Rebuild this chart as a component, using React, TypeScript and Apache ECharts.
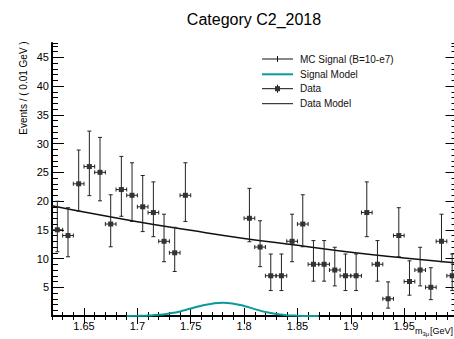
import React, { useEffect, useRef } from "react";
import * as echarts from "echarts";

const TITLE = "Category C2_2018";
const Y_TITLE = "Events / ( 0.01 GeV )";
const X_TITLE_MAIN = "m";
const X_TITLE_SUB = "3μ";
const X_TITLE_UNIT = "[GeV]";
const LEGEND_LABELS = ["MC Signal (B=10-e7)", "Signal Model", "Data", "Data Model"];

const X_MIN = 1.62;
const X_MAX = 2.0;
const Y_MIN = 0;
const Y_MAX = 47.5;
const HALF_BIN = 0.005;

const xMajorTicks = [1.65, 1.7, 1.75, 1.8, 1.85, 1.9, 1.95];
const yMajorTicks = [5, 10, 15, 20, 25, 30, 35, 40, 45];

// observed data (blinded 1.75-1.80)
const binCenters = [
  1.625, 1.635, 1.645, 1.655, 1.665, 1.675, 1.685, 1.695, 1.705, 1.715, 1.725, 1.735, 1.745,
  1.805, 1.815, 1.825, 1.835, 1.845, 1.855, 1.865, 1.875, 1.885, 1.895, 1.905, 1.915, 1.925,
  1.935, 1.945, 1.955, 1.965, 1.975, 1.985, 1.995,
];
const counts = [
  15, 14, 23, 26, 25, 16, 22, 21, 19, 18, 13, 11, 21,
  17, 12, 7, 7, 13, 16, 9, 9, 8, 7, 7, 18, 9, 3, 14, 6, 8, 5, 13, 7,
];

// background (data) model curve
const modelX = [1.62, 1.65, 1.7, 1.75, 1.8, 1.85, 1.9, 1.95, 2.0];
const modelY = [19.2, 18.1, 16.4, 14.9, 13.5, 12.3, 11.1, 10.1, 9.2];

// signal model curve
const sigX = [1.69, 1.7, 1.71, 1.72, 1.73, 1.74, 1.75, 1.76, 1.77, 1.78, 1.79, 1.8, 1.81, 1.82, 1.83, 1.84, 1.85, 1.86, 1.87];
const sigY = [0, 0.03, 0.08, 0.2, 0.45, 0.8, 1.3, 1.8, 2.15, 2.3, 2.15, 1.75, 1.2, 0.7, 0.35, 0.15, 0.05, 0.01, 0];

const FONT = "Liberation Sans, Arial, Helvetica, sans-serif";

// Poisson (Garwood-like, Gehrels approximation) 68% interval
function poisLo(n: number) {
  if (n <= 0) return 0;
  const t = 1 - 1 / (9 * n) - 1 / (3 * Math.sqrt(n));
  return n * t * t * t;
}
function poisHi(n: number) {
  return n + Math.sqrt(n + 0.75) + 1;
}

export default function App() {
  const ref = useRef<HTMLDivElement>(null);

  useEffect(() => {
    if (!ref.current) return;
    const chart = echarts.init(ref.current, undefined, { renderer: "svg" });

    const errData = counts.map((n, i) => [binCenters[i], n, poisLo(n), poisHi(n)]);
    const modelData = modelX.map((x, i) => [x, modelY[i]]);
    const sigData = sigX.map((x, i) => [x, sigY[i]]);

    const axisLineStyle = { color: "#000", width: 2 };
    const tickStyle = { color: "#000", width: 1 };

    const xBase = {
      type: "value" as const,
      min: X_MIN,
      max: X_MAX,
      splitLine: { show: false },
    };
    const yBase = {
      type: "value" as const,
      min: Y_MIN,
      max: Y_MAX,
      splitLine: { show: false },
    };

    const rows = [59, 74.3, 88.7, 103.7];
    const lx1 = 262;
    const lx2 = 293;
    const lxm = (lx1 + lx2) / 2;
    const ltx = 300;

    const legendGraphics: any[] = [];
    rows.forEach((y, i) => {
      const isSig = i === 1;
      legendGraphics.push({
        type: "line",
        shape: { x1: lx1, y1: y, x2: lx2, y2: y },
        style: { stroke: isSig ? "#0a9a9a" : "#111", lineWidth: isSig ? 2 : 1 },
      });
      if (i === 0) {
        legendGraphics.push({
          type: "line",
          shape: { x1: lxm, y1: y - 3, x2: lxm, y2: y + 3 },
          style: { stroke: "#111", lineWidth: 1 },
        });
      }
      if (i === 2) {
        legendGraphics.push({
          type: "line",
          shape: { x1: lxm, y1: y - 4, x2: lxm, y2: y + 4 },
          style: { stroke: "#111", lineWidth: 1 },
        });
        legendGraphics.push({
          type: "rect",
          shape: { x: lxm - 2.5, y: y - 2.5, width: 5, height: 5 },
          style: { fill: "#333" },
        });
      }
      legendGraphics.push({
        type: "text",
        x: ltx,
        y: y,
        style: {
          text: LEGEND_LABELS[i],
          font: `10px ${FONT}`,
          fill: "#111",
          align: "left",
          verticalAlign: "middle",
        },
      });
    });

    const option: any = {
      animation: false,
      backgroundColor: "#fff",
      grid: { left: 52, top: 43, width: 405.5, height: 273 },
      xAxis: [
        {
          ...xBase,
          position: "bottom",
          axisLine: { show: true, lineStyle: axisLineStyle },
          axisTick: { show: true, inside: true, length: 8, lineStyle: tickStyle, customValues: xMajorTicks },
          axisLabel: {
            show: true,
            customValues: xMajorTicks,
            color: "#000",
            fontSize: 11,
            fontFamily: FONT,
            margin: 4,
          },
        },
        {
          ...xBase,
          position: "bottom",
          interval: 0.01,
          axisLine: { show: false },
          axisTick: { show: true, inside: true, length: 4, lineStyle: tickStyle },
          axisLabel: { show: false },
        },
        {
          ...xBase,
          position: "top",
          axisLine: { show: true, lineStyle: axisLineStyle },
          axisTick: { show: true, inside: true, length: 8, lineStyle: tickStyle, customValues: xMajorTicks },
          axisLabel: { show: false },
        },
        {
          ...xBase,
          position: "top",
          interval: 0.01,
          axisLine: { show: false },
          axisTick: { show: true, inside: true, length: 4, lineStyle: tickStyle },
          axisLabel: { show: false },
        },
      ],
      yAxis: [
        {
          ...yBase,
          position: "left",
          axisLine: { show: true, lineStyle: axisLineStyle },
          axisTick: { show: true, inside: true, length: 12, lineStyle: tickStyle, customValues: yMajorTicks },
          axisLabel: {
            show: true,
            customValues: yMajorTicks,
            color: "#000",
            fontSize: 11,
            fontFamily: FONT,
            margin: 3,
          },
        },
        {
          ...yBase,
          position: "left",
          interval: 1,
          axisLine: { show: false },
          axisTick: { show: true, inside: true, length: 6, lineStyle: tickStyle },
          axisLabel: { show: false },
        },
        {
          ...yBase,
          position: "right",
          axisLine: { show: true, lineStyle: axisLineStyle },
          axisTick: { show: true, inside: true, length: 12, lineStyle: tickStyle, customValues: yMajorTicks },
          axisLabel: { show: false },
        },
        {
          ...yBase,
          position: "right",
          interval: 1,
          axisLine: { show: false },
          axisTick: { show: true, inside: true, length: 6, lineStyle: tickStyle },
          axisLabel: { show: false },
        },
      ],
      graphic: [
        {
          type: "text",
          x: 254,
          y: 19,
          style: {
            text: TITLE,
            font: `16px ${FONT}`,
            fill: "#000",
            align: "center",
            verticalAlign: "middle",
          },
        },
        {
          type: "text",
          x: 23,
          y: 88,
          rotation: Math.PI / 2,
          style: {
            text: Y_TITLE,
            font: `10px ${FONT}`,
            fill: "#000",
            align: "center",
            verticalAlign: "middle",
          },
        },
        {
          type: "text",
          x: 415,
          y: 331,
          style: {
            text: X_TITLE_MAIN,
            font: `9px ${FONT}`,
            fill: "#000",
            align: "left",
            verticalAlign: "middle",
          },
        },
        {
          type: "text",
          x: 422.5,
          y: 334,
          style: {
            text: X_TITLE_SUB,
            font: `6px ${FONT}`,
            fill: "#000",
            align: "left",
            verticalAlign: "middle",
          },
        },
        {
          type: "text",
          x: 430,
          y: 331,
          style: {
            text: X_TITLE_UNIT,
            font: `9px ${FONT}`,
            fill: "#000",
            align: "left",
            verticalAlign: "middle",
          },
        },
        ...legendGraphics,
      ],
      series: [
        {
          type: "line",
          name: "Signal Model",
          xAxisIndex: 0,
          yAxisIndex: 0,
          data: sigData,
          smooth: true,
          showSymbol: false,
          lineStyle: { color: "#0a9a9a", width: 2 },
          z: 3,
        },
        {
          type: "line",
          name: "Data Model",
          xAxisIndex: 0,
          yAxisIndex: 0,
          data: modelData,
          smooth: true,
          showSymbol: false,
          lineStyle: { color: "#111", width: 1.5 },
          z: 4,
        },
        {
          type: "custom",
          name: "Data",
          xAxisIndex: 0,
          yAxisIndex: 0,
          data: errData,
          encode: { x: 0, y: 1 },
          z: 5,
          renderItem: (_params: any, api: any) => {
            const x = api.value(0);
            const y = api.value(1);
            const lo = api.value(2);
            const hi = api.value(3);
            const c = api.coord([x, y]);
            const pLo = api.coord([x, lo]);
            const pHi = api.coord([x, hi]);
            const pL = api.coord([x - HALF_BIN, y]);
            const pR = api.coord([x + HALF_BIN, y]);
            const st = { stroke: "#222", lineWidth: 1, fill: null };
            const cap = 2;
            return {
              type: "group",
              children: [
                { type: "line", shape: { x1: c[0], y1: pHi[1], x2: c[0], y2: pLo[1] }, style: st },
                { type: "line", shape: { x1: c[0] - cap, y1: pHi[1], x2: c[0] + cap, y2: pHi[1] }, style: st },
                { type: "line", shape: { x1: c[0] - cap, y1: pLo[1], x2: c[0] + cap, y2: pLo[1] }, style: st },
                { type: "line", shape: { x1: pL[0], y1: c[1], x2: pR[0], y2: c[1] }, style: st },
                { type: "line", shape: { x1: pL[0], y1: c[1] - cap, x2: pL[0], y2: c[1] + cap }, style: st },
                { type: "line", shape: { x1: pR[0], y1: c[1] - cap, x2: pR[0], y2: c[1] + cap }, style: st },
                { type: "rect", shape: { x: c[0] - 2.5, y: c[1] - 2.5, width: 5, height: 5 }, style: { fill: "#333" } },
              ],
            };
          },
        },
      ],
    };

    chart.setOption(option);
    return () => {
      chart.dispose();
    };
  }, []);

  return (
    <div
      style={{
        position: "fixed",
        left: 0,
        top: 0,
        width: 454,
        height: 339,
        overflow: "hidden",
        background: "#fff",
      }}
    >
      <div ref={ref} style={{ width: 460, height: 339 }} />
    </div>
  );
}
